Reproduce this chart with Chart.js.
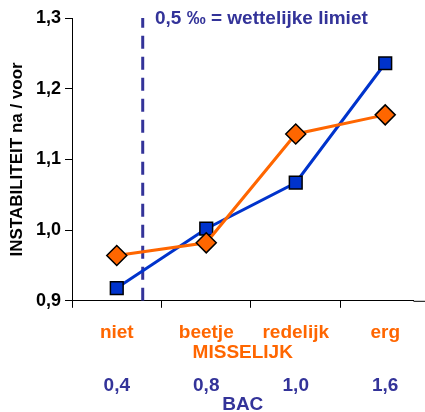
<!DOCTYPE html>
<html>
<head>
<meta charset="utf-8">
<script src="https://cdn.jsdelivr.net/npm/chart.js@4"></script>
<style>
  html, body { margin: 0; padding: 0; background: #fff; overflow: hidden; }
  #wrap { width: 425px; height: 412px; }
</style>
</head>
<body>
<div id="wrap"><canvas id="ch" width="425" height="412"></canvas></div>
<script>
// categorieen en waarden
const MISSELIJK = ["niet", "beetje", "redelijk", "erg"];
const BAC = ["0,4", "0,8", "1,0", "1,6"];
const blauw = [0.918, 1.002, 1.067, 1.236];
const oranje = [0.964, 0.982, 1.136, 1.163];
const Y_TICKS = [0.9, 1.0, 1.1, 1.2, 1.3];
const LIMIET_X = 0.29;

const NAVY = "#333399", ORANJE = "#FF6600", BLAUW = "#0033CC";
const FONT = "'Liberation Sans', Arial, sans-serif";

const pts = arr => arr.map((v, i) => ({ x: i, y: v }));

// tekst bovenaan + x-as doortrekken tot de rand
const extras = {
  id: "extras",
  afterDraw(chart) {
    const c = chart.ctx, x = chart.scales.x;
    c.save();
    c.strokeStyle = "#000"; c.lineWidth = 1;
    c.beginPath();
    c.moveTo(x.right, x.top + 0.5); c.lineTo(chart.width, x.top + 0.5);
    c.stroke();
    c.font = "bold 19px " + FONT;
    c.fillStyle = NAVY;
    c.textBaseline = "middle";
    c.fillText("0,5 \u2030 = wettelijke limiet", 155, 19);
    c.restore();
  }
};

const xBase = { type: "linear", position: "bottom", min: -0.5, max: 3.316 };

new Chart(document.getElementById("ch"), {
  type: "line",
  data: {
    datasets: [
      { data: [{ x: LIMIET_X, y: 0.9 }, { x: LIMIET_X, y: 1.3 }], borderColor: NAVY, borderWidth: 3,
        borderDash: [13, 8], pointRadius: 0, order: 3 },
      { data: pts(blauw), borderColor: BLAUW, borderWidth: 3, pointStyle: "rect", pointRadius: 9,
        pointBackgroundColor: BLAUW, pointBorderColor: "#000", pointBorderWidth: 1.5, order: 2 },
      { data: pts(oranje), borderColor: ORANJE, borderWidth: 3, pointStyle: "rectRot", pointRadius: 10,
        pointBackgroundColor: ORANJE, pointBorderColor: "#000", pointBorderWidth: 1.5, order: 1 },
    ]
  },
  options: {
    responsive: false, animation: false,
    layout: { padding: { top: 18, right: 0, left: 3.6, bottom: -4 } },
    plugins: { legend: { display: false }, tooltip: { enabled: false } },
    scales: {
      x: {
        ...xBase,
        afterBuildTicks: s => { s.ticks = [-0.5, 0.5, 1.5, 2.5].map(v => ({ value: v })); },
        ticks: { display: false },
        grid: { drawOnChartArea: false, tickLength: 7, color: "#000" },
        border: { color: "#000", width: 1 }
      },
      x2: {
        ...xBase,
        afterBuildTicks: s => { s.ticks = [0, 1, 2, 3].map(v => ({ value: v })); },
        ticks: { color: ORANJE, font: { family: FONT, size: 19, weight: "bold" }, padding: 6,
                 callback: v => MISSELIJK[v] },
        grid: { display: false }, border: { display: false },
        title: { display: true, text: "MISSELIJK", color: ORANJE, padding: { top: -9, bottom: 0 },
                 font: { family: FONT, size: 19, weight: "bold" } }
      },
      x3: {
        ...xBase,
        afterBuildTicks: s => { s.ticks = [0, 1, 2, 3].map(v => ({ value: v })); },
        ticks: { color: NAVY, font: { family: FONT, size: 19, weight: "bold" }, padding: 2,
                 callback: v => BAC[v] },
        grid: { display: false }, border: { display: false },
        title: { display: true, text: "BAC", color: NAVY, padding: { top: -6, bottom: 0 },
                 font: { family: FONT, size: 19, weight: "bold" } }
      },
      y: {
        min: 0.9, max: 1.3,
        afterBuildTicks: s => { s.ticks = Y_TICKS.map(v => ({ value: v })); },
        ticks: { color: "#000", font: { family: FONT, size: 18, weight: "bold" }, padding: 4,
                 callback: v => v.toFixed(1).replace(".", ",") },
        grid: { drawOnChartArea: false, tickLength: 7, color: "#000" },
        border: { color: "#000", width: 1 },
        title: { display: true, text: "INSTABILITEIT na / voor", color: "#000", padding: 4,
                 font: { family: FONT, size: 17, weight: "bold" } }
      }
    }
  },
  plugins: [extras]
});
</script>
</body>
</html>
